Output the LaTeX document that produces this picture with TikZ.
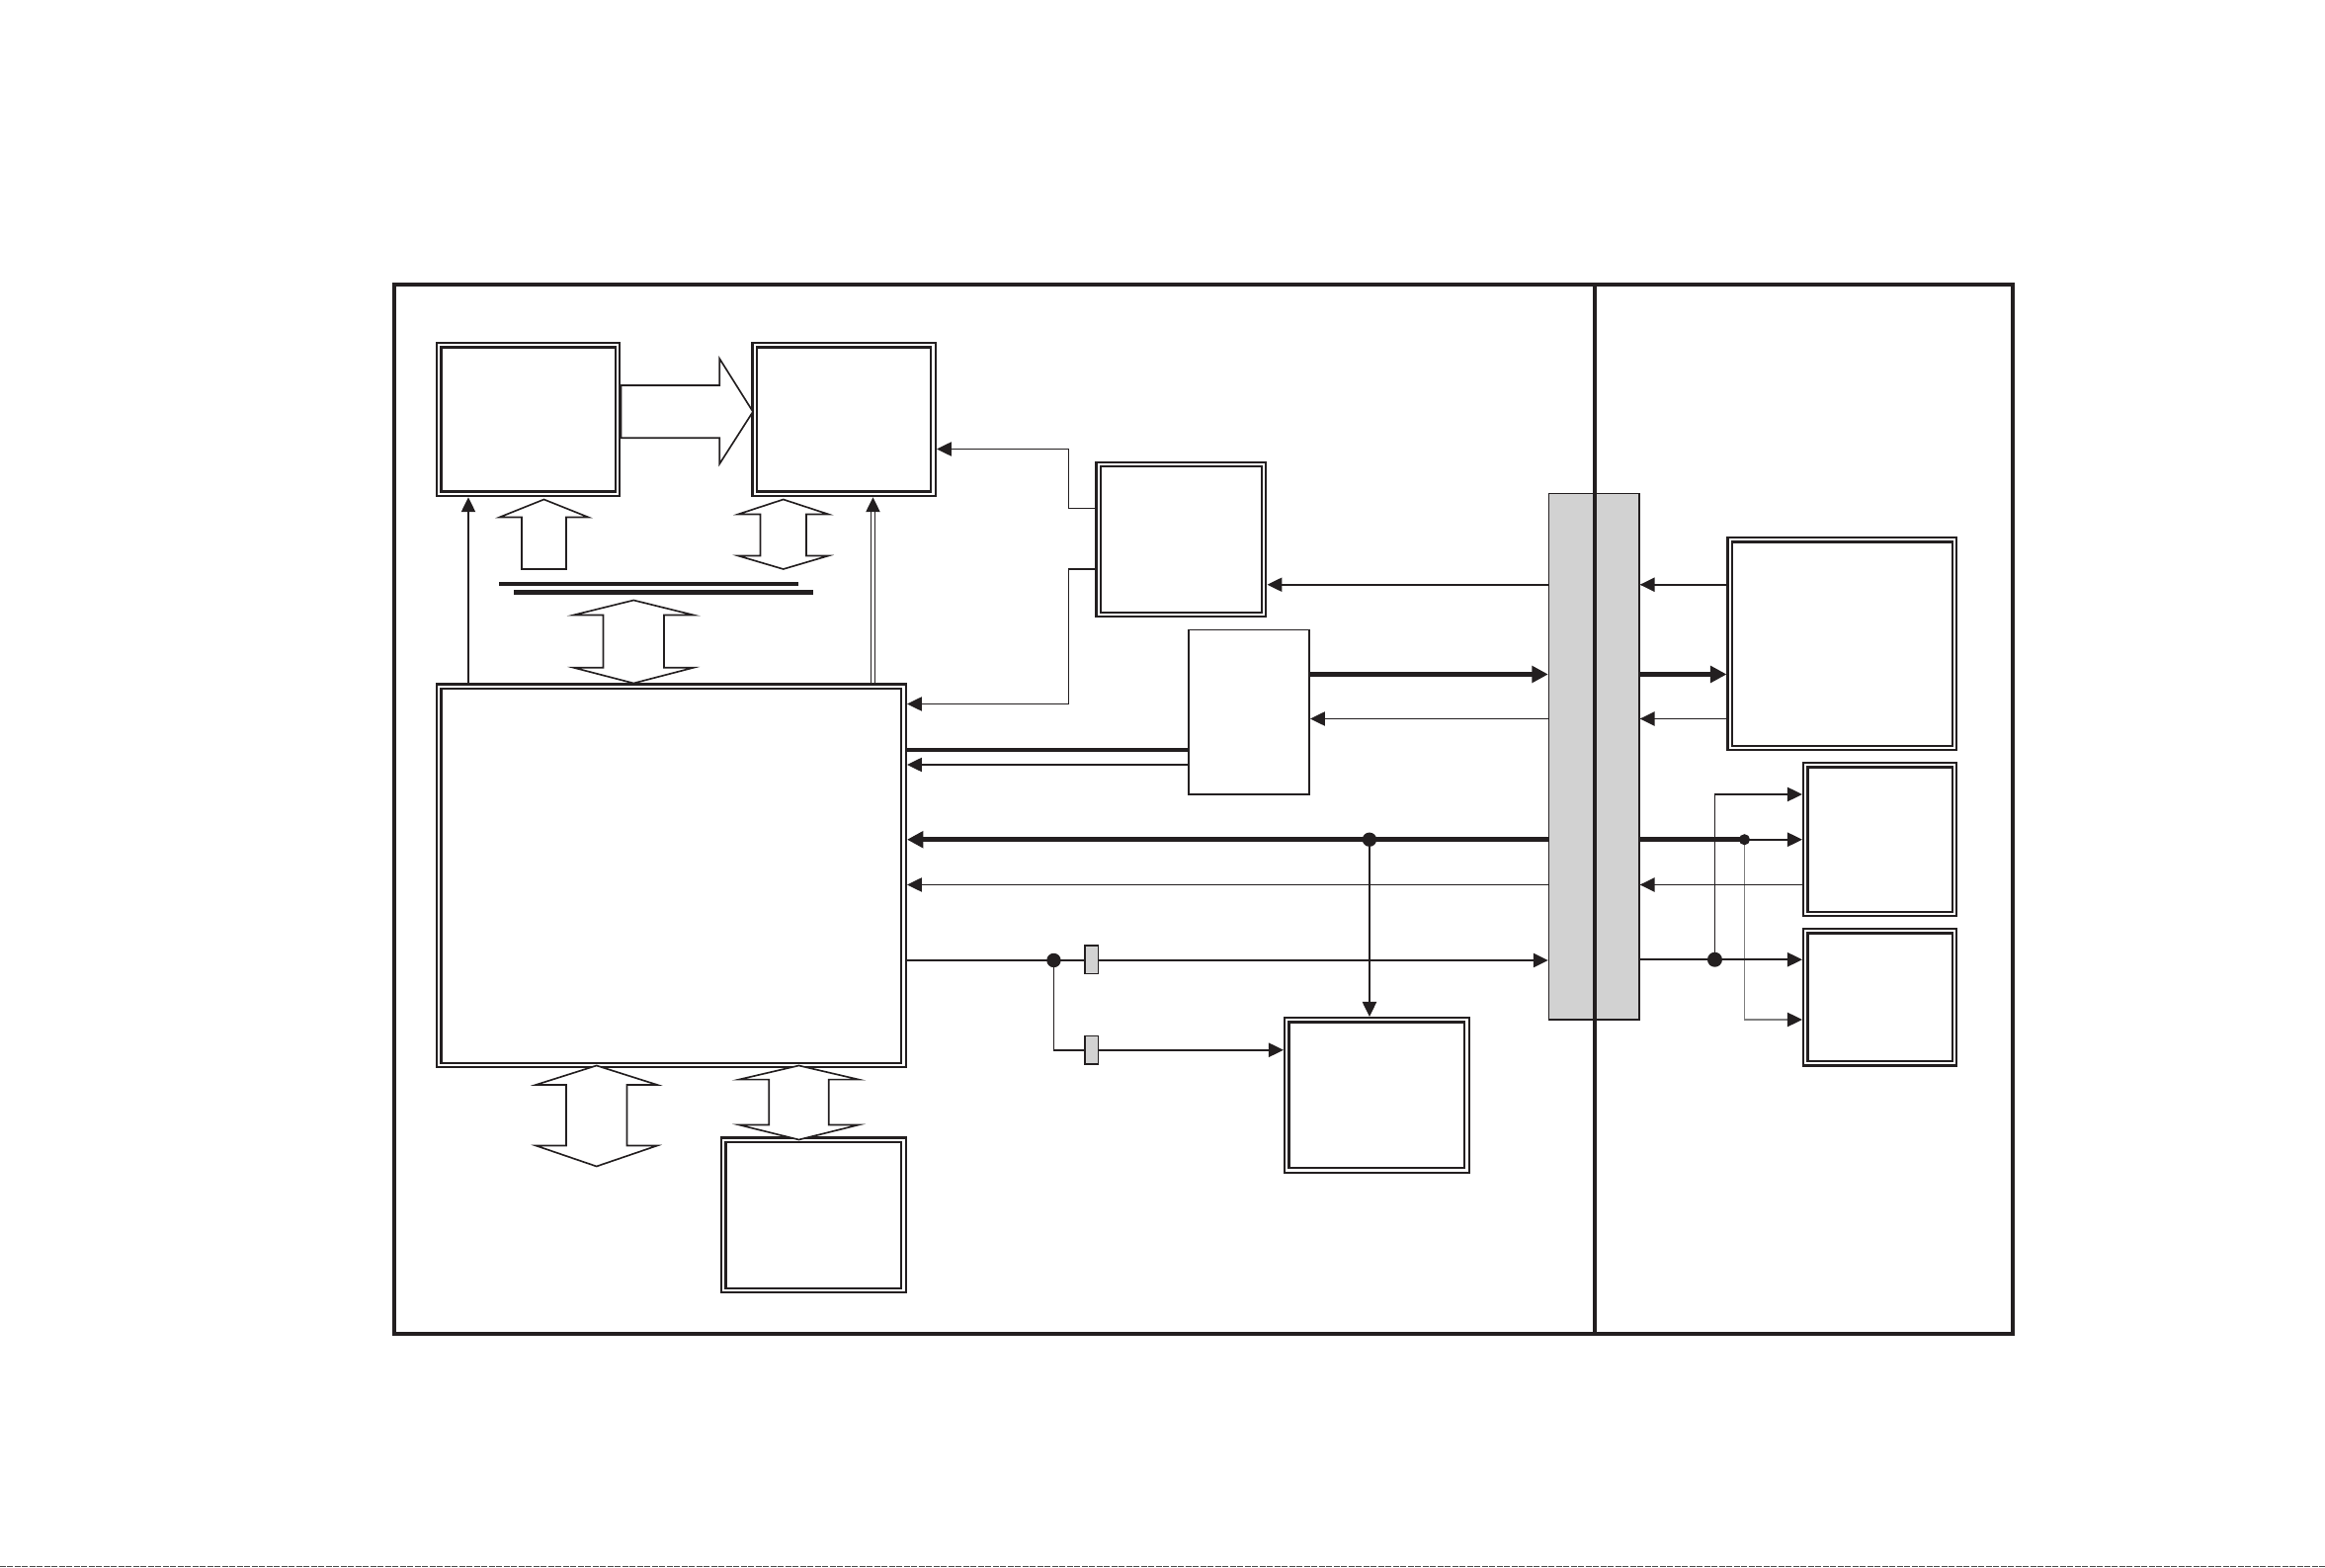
\documentclass[tikz,border=0pt]{standalone}
\usepackage{tikz}
\usetikzlibrary{arrows.meta}
\definecolor{ink}{HTML}{231F20}
\definecolor{shade}{HTML}{D2D2D2}
% hollow two-way block arrow: x, tip, base, base, tip, head half, shaft half
\newcommand{\twoway}[7]{%
  \draw[fat] (#1,#2) -- (#1+#6,#3) -- (#1+#7,#3) -- (#1+#7,#4) -- (#1+#6,#4) -- (#1,#5)
    -- (#1-#6,#4) -- (#1-#7,#4) -- (#1-#7,#3) -- (#1-#6,#3) -- cycle;}

\begin{document}
\begin{tikzpicture}[x=1pt, y=-1pt, >={Triangle[length=10pt,width=9.5pt]},
  blk/.style={draw=ink, double, line width=1.6pt, double distance=1.4pt, inner sep=0pt, outer sep=2.3pt},
  thinbox/.style={draw=ink, line width=1pt, inner sep=0pt, outer sep=0.5pt},
  tap/.style={draw=ink, fill=shade, line width=0.8pt, inner sep=0pt, minimum width=9, minimum height=19},
  wire/.style={draw=ink, line width=1.1pt},
  bus/.style={draw=ink, line width=3pt},
  fat/.style={draw=ink, line width=1.1pt, fill=white},
  bigtip/.style={-{Triangle[length=11pt,width=11pt]}}]
  \useasboundingbox (0,0) rectangle (1568.7,1058);
  \draw[ink, line width=2.6pt] (265.8,192) rectangle (1358,900);

  % blocks
  \node[blk, minimum width=120.4, minimum height=100.4] (mem1) at (356.5,283) {};
  \node[blk, minimum width=120.4, minimum height=100.4] (mem2) at (569.5,283) {};
  \node[blk, minimum width=111.4, minimum height=101.4] (osc) at (797,364) {};
  \node[thinbox, minimum width=81.5, minimum height=111] (dec) at (842.75,480.5) {};
  \node[blk, minimum width=313.4, minimum height=255.4] (cpu) at (453,591) {};
  \node[blk, minimum width=121.4, minimum height=101.4] (ext) at (549,820) {};
  \node[blk, minimum width=121.4, minimum height=101.4] (drv) at (929,739) {};
  \node[draw=ink, fill=shade, line width=0.9pt, inner sep=0pt, outer sep=0.45pt,
        minimum width=61, minimum height=355] (conn) at (1075.5,510.5) {};
  \node[blk, minimum width=151.4, minimum height=140.4] (disp) at (1243,434.5) {};
  \node[blk, minimum width=100.4, minimum height=100.4] (key) at (1268.5,566.5) {};
  \node[blk, minimum width=100.4, minimum height=89.4] (buzz) at (1268.5,672.8) {};
  \draw[ink, line width=2.4pt] (1076,192) -- (1076,900);

  % block arrows
  \draw[fat] (mem1.east |- 0,260) -- (485.5,260) -- (485.5,242) -- (508,277.8)
    -- (485.5,313) -- (485.5,295.5) -- (mem1.east |- 0,295.5) -- cycle;
  \draw[fat] (367,337) -- (397,349) -- (382,349) -- (382,384) -- (352,384)
    -- (352,349) -- (337,349) -- cycle;
  \twoway{528.5}{337}{347}{375}{384}{30.5}{15.5}
  \twoway{427.5}{405}{415}{450.5}{461}{40.5}{20.5}
  \twoway{402.5}{719}{732}{773}{787}{41}{20.5}
  \twoway{539}{719}{728.4}{759}{769}{40.4}{20.2}
  \draw[ink, line width=3.1pt] (337,394) -- (539,394);
  \draw[ink, line width=3.1pt] (347,399.5) -- (549,399.5);

  % left half
  \draw[wire,->] (cpu.north -| 316,0) -- (mem1.south -| 316,0);
  \draw[ink, double, line width=0.7pt, double distance=1.5pt] (cpu.north -| 589,0) -- (589,343);
  \draw[wire,->] (589,343) -- (mem2.south -| 589,0);
  \draw[wire,->] (osc.west |- 0,343) -- (721,343) |- (mem2.east |- 0,303);
  \draw[wire,->] (osc.west |- 0,384) -- (721,384) |- (cpu.east |- 0,475);
  \draw[wire,->] (conn.west |- 0,394.5) -- (osc.east |- 0,394.5);
  \draw[bus,bigtip] (dec.east |- 0,455) -- (conn.west |- 0,455);
  \draw[wire,->] (conn.west |- 0,485) -- (dec.east |- 0,485);
  \draw[bus] (cpu.east |- 0,506) -- (dec.west |- 0,506);
  \draw[wire,->] (dec.west |- 0,516) -- (cpu.east |- 0,516);

  \coordinate (j1) at (924,566.5);
  \draw[bus,bigtip] (conn.west |- j1) -- (cpu.east |- j1);
  \draw[wire,->] (j1) -- (drv.north -| j1);
  \fill[ink] (j1) circle (4.8pt);
  \draw[wire,->] (conn.west |- 0,597) -- (cpu.east |- 0,597);
  \coordinate (j2) at (711,648);
  \draw[wire,->] (cpu.east |- j2) -- (conn.west |- j2);
  \draw[wire,->] (j2) |- (drv.west |- 0,708.5);
  \fill[ink] (j2) circle (4.8pt);
  \node[tap] (f1) at (736.5,647.5) {};
  \node[tap] (f2) at (736.5,708.5) {};

  % right half
  \draw[wire,->] (disp.west |- 0,394.5) -- (conn.east |- 0,394.5);
  \draw[bus,bigtip] (conn.east |- 0,455) -- (disp.west |- 0,455);
  \draw[wire,->] (disp.west |- 0,485) -- (conn.east |- 0,485);
  \coordinate (j3) at (1177,566.5);
  \coordinate (j4) at (1157,647.5);
  \draw[bus] (conn.east |- j3) -- (j3);
  \draw[wire,->] (j3) -- (key.west |- j3);
  \draw[line width=1.1pt, black!50, -{Triangle[length=10pt,width=9.5pt,color=ink]}]
    (j3) |- (buzz.west |- 0,688);
  \fill[ink] (j3) circle (3.7pt);
  \draw[wire,->] (key.west |- 0,597) -- (conn.east |- 0,597);
  \draw[wire,->] (conn.east |- j4) -- (buzz.west |- j4);
  \draw[wire,->] (j4) |- (key.west |- 0,536);
  \fill[ink] (j4) circle (5pt);

  \draw[black!70, line width=1pt, dash pattern=on 4pt off 1pt] (0,1057) -- (1568.7,1057);
\end{tikzpicture}
\end{document}
